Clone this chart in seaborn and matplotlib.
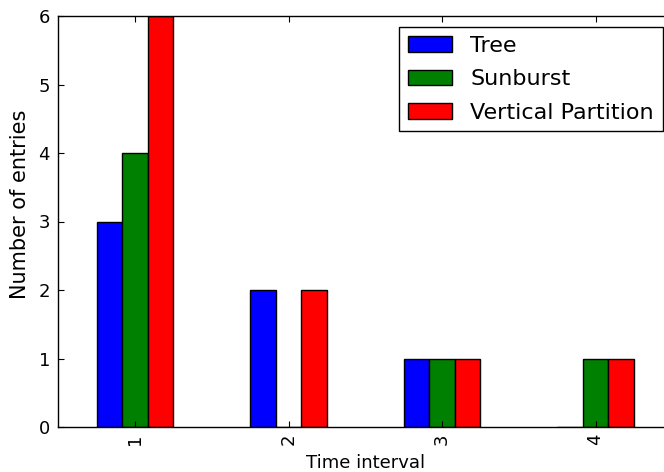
import matplotlib
matplotlib.use("Agg")
import matplotlib.pyplot as plt
import seaborn as sns
import pandas as pd
from matplotlib.patches import Patch

# Data
intervals = ["1", "2", "3", "4"]
tree = [3, 2, 1, 0]
sunburst = [4, 0, 1, 1]
vertical_partition = [6, 2, 1, 1]
series_names = ["Tree", "Sunburst", "Vertical Partition"]
colors = ["#0000ff", "#008000", "#ff0000"]
y_ticks = [0, 1, 2, 3, 4, 5, 6]

df = pd.DataFrame({
    "interval": intervals * 3,
    "count": tree + sunburst + vertical_partition,
    "method": [n for n in series_names for _ in intervals],
})

plt.rcParams.update({
    "font.family": ["DejaVu Sans"],
    "font.size": 13,
    "xtick.direction": "in",
    "ytick.direction": "in",
    "xtick.top": True,
    "ytick.right": True,
    "xtick.major.size": 4,
    "ytick.major.size": 4,
    "xtick.major.width": 0.8,
    "ytick.major.width": 0.8,
    "axes.linewidth": 1.0,
    "axes.edgecolor": "black",
    "xtick.labelsize": 13,
    "ytick.labelsize": 13,
})

fig = plt.figure(figsize=(6.64, 4.72), dpi=100)
ax = fig.add_axes([58.3 / 664, 45 / 472, 614 / 664, 411 / 472])

sns.barplot(data=df, x="interval", y="count", hue="method", palette=colors,
            width=0.5, edgecolor="black", linewidth=1, saturation=1,
            legend=False, ax=ax, errorbar=None)

ax.set_xlim(-0.5, 3.5)
ax.set_ylim(0, 6)
ax.set_yticks(y_ticks)
ax.tick_params(axis="x", labelrotation=90, pad=5)
ax.tick_params(axis="y", pad=6)
ax.set_xlabel("Time interval", fontsize=13)
ax.set_ylabel("Number of entries", fontsize=15)
ax.xaxis.set_label_coords(0.5, -0.066)
ax.yaxis.set_label_coords(-0.046, 0.5426)

handles = [Patch(facecolor=c, edgecolor="black", label=n) for c, n in zip(colors, series_names)]
leg = ax.legend(handles=handles, loc="upper left",
                bbox_to_anchor=(399 / 664, 1 - 27 / 472), bbox_transform=fig.transFigure,
                borderaxespad=0, fancybox=False, framealpha=1, edgecolor="black",
                fontsize=16, borderpad=0.4, labelspacing=0.6,
                handlelength=2.0, handleheight=0.7, handletextpad=0.8)
leg.get_frame().set_linewidth(1.0)

fig.savefig("out.png", dpi=100)
